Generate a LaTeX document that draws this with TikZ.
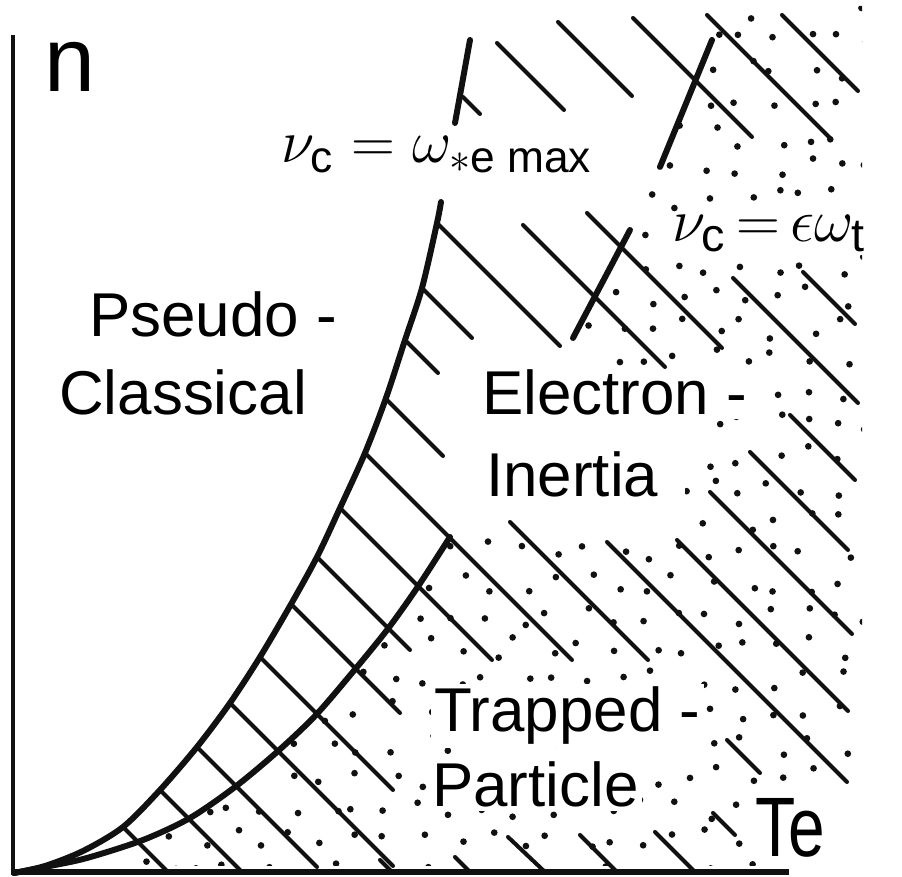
\documentclass[tikz,border=0pt]{standalone}
\usepackage{amsmath}
\usepackage{fontspec}
\setmainfont{Liberation Sans}
\usepackage{tikz}
\usetikzlibrary{calc}
\definecolor{ink}{HTML}{111111}

\tikzset{
  hatch/.style={ink, line width=1.15pt, line cap=round},
  border/.style={ink, line width=1.7pt, line cap=round, line join=round},
  axis/.style={ink, line width=1.4pt},
  region/.style={font=\fontsize{17.6}{20}\selectfont, fill=white, inner sep=1pt, anchor=base west},
  eqn/.style={fill=white, inner sep=1pt, anchor=base west},
}

\begin{document}
\begin{tikzpicture}[x=0.01cm, y=-0.01cm]
  \useasboundingbox (0,0) rectangle (902,877);
  % stipple right of the lower boundary
  \begin{scope}
    \clip plot[smooth] coordinates {(14,873) (50,866) (87,858) (143,840) (190,818) (235,787) (277,752) (315,716) (352,673) (387,630) (417,588) (450,537)}
      -- (685,537) -- (685,420) -- (573,338) -- (630,230) -- (660,167) -- (712,40) -- (727,6) -- (862,6) -- (862,768) -- (768,795) -- (762,866) -- (14,866) -- cycle;
    \pgfmathsetseed{11}
    \foreach \i in {0,...,28} {
      \foreach \j in {0,...,28} {
        \pgfmathsetmacro\px{\i*32+8+11*rand}
        \pgfmathsetmacro\py{\j*32+8+11*rand}
        \fill[ink] (\px,\py) circle (0.95pt);
      }
    }
  \end{scope}
  % labels
  \node[anchor=base west, font=\fontsize{26}{28}\selectfont, inner sep=0pt] (nlabel) at (44,92) {n};
  \node[region] (pseudo) at (85,337) {Pseudo -};
  \node[region] (classical) at (55,415) {Classical};
  \node[region] (electron) at (478,415) {Electron -};
  \node[region] (inertia) at (482,497) {Inertia};
  \node[region] (trapped) at (430,732) {Trapped -};
  \node[region] (particle) at (428,807) {Particle};
  \node[eqn, font=\fontsize{24}{26}\selectfont, xscale=0.78] (telabel) at (752,857) {Te};
  \node[eqn, font=\fontsize{18}{20}\selectfont] (wstar) at (277,163) {$\nu_{\text{c}} = \omega_{\ast\text{e max}}$};
  \node[eqn, font=\fontsize{19}{21}\selectfont] (epsw) at (668,242) {$\nu_{\text{c}}\,{=}\,\epsilon\omega_{\text{t}}$};
  % diagonal hatching
  \foreach \xa/\ya/\xb/\yb in {463/97/480/114, 497/43/564/110, 558/22/632/96, 633/18/752/137,
      707/15/830/138, 782/15/858/91, 437/223/560/346, 523/225/665/367, 587/213/722/348,
      422/288/472/338, 405/340/438/373, 385/398/443/456, 733/278/858/403, 803/272/855/324,
      790/415/855/480, 750/452/848/550, 710/492/852/634, 677/540/848/711, 607/542/847/782,
      510/522/648/660, 365/453/572/660, 340/508/492/660, 317/557/410/650, 292/605/400/713,
      260/657/393/790, 230/703/393/866, 197/747/317/867, 160/790/240/870, 123/827/166/870,
      727/740/760/773, 713/813/735/835, 655/832/695/872, 580/835/617/872, 508/837/545/872,
      455/857/470/872, 380/860/392/872}
    \draw[hatch] (\xa,\ya) -- (\xb,\yb);
  % boundary curves
  \draw[border] plot[smooth] coordinates {(14,873) (45,866) (83,851) (123,827) (160,790) (197,747) (230,703) (260,657) (290,606) (317,557) (340,508) (365,453) (386,398) (405,340) (422,288) (437,223) (441,202)};
  \draw[border] (455,123) -- (470,40);
  \draw[border] plot[smooth] coordinates {(14,873) (50,866) (87,858) (143,840) (190,818) (235,787) (277,752) (315,716) (352,673) (387,630) (417,588) (450,537)};
  \draw[border] (573,338) -- (630,230);
  \draw[border] (660,167) -- (712,40);
  % axes
  \draw[axis] (13,35) -- (13,873);
  \draw[axis, line width=1.6pt] (11,872) -- (789,872);
\end{tikzpicture}
\end{document}
